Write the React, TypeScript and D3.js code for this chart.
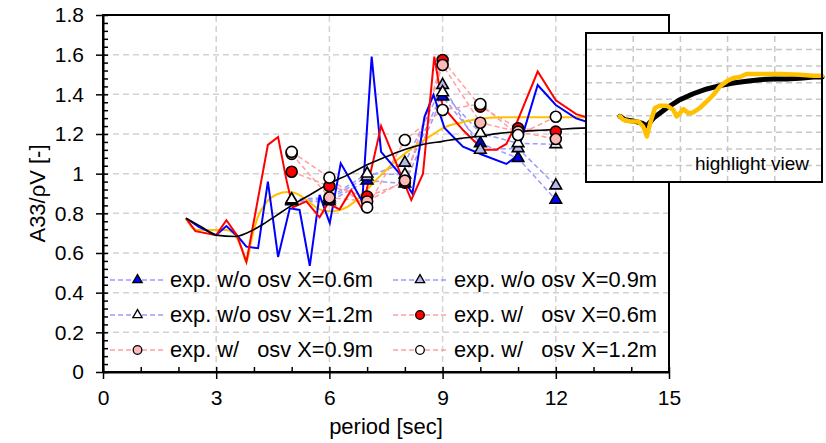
import React, { useEffect, useRef } from 'react';
import * as d3 from 'd3';

type Pt = [number, number];

// axis ticks
const xTicks = [0, 3, 6, 9, 12, 15];
const yTicks = [0, 0.2, 0.4, 0.6, 0.8, 1, 1.2, 1.4, 1.6, 1.8];
const yTickLabels = ['0', '0.2', '0.4', '0.6', '0.8', '1', '1.2', '1.4', '1.6', '1.8'];

// numerical curves (period [sec], A33/pV)
const blueLine: Pt[] = [
  [2.2, 0.775], [2.55, 0.73], [3.0, 0.69], [3.27, 0.736], [3.58, 0.682], [3.8, 0.632], [4.11, 0.624],
  [4.37, 0.96], [4.64, 0.58], [4.95, 0.825], [5.21, 0.817], [5.48, 0.535], [5.74, 0.893], [6.01, 0.75],
  [6.3, 1.052], [6.58, 0.96], [6.87, 0.86], [7.12, 1.59], [7.37, 1.11], [7.86, 1.0], [8.2, 0.9],
  [8.52, 1.287], [8.76, 1.397], [9.05, 1.23], [9.54, 1.136], [10.07, 1.094], [10.69, 1.049], [10.95, 1.086],
  [11.52, 1.447], [12.0, 1.346], [12.54, 1.279], [12.9, 1.257], [13.5, 1.245], [15, 1.24],
];
const redLine: Pt[] = [
  [2.2, 0.775], [2.45, 0.71], [3.0, 0.69], [3.27, 0.765], [3.55, 0.69], [3.8, 0.555], [4.37, 1.145],
  [4.64, 1.185], [4.86, 0.97], [5.03, 0.83], [5.39, 0.86], [5.74, 0.78], [5.96, 0.85], [6.27, 0.82],
  [6.58, 0.918], [6.87, 0.82], [7.37, 1.24], [8.17, 0.867], [8.48, 1.0], [8.78, 1.59], [9.0, 1.34],
  [9.54, 1.22], [10.07, 1.12], [10.42, 1.12], [10.69, 1.15], [10.95, 1.25], [11.52, 1.515], [12.0, 1.37],
  [12.54, 1.3], [12.9, 1.28], [13.5, 1.27], [15, 1.27],
];
const orangeLine: Pt[] = [
  [2.2, 0.775], [2.47, 0.716], [3.0, 0.716], [3.27, 0.716], [3.5, 0.69], [3.67, 0.624], [3.8, 0.556],
  [3.95, 0.68], [4.1, 0.78], [4.35, 0.86], [4.6, 0.895], [4.9, 0.907], [5.12, 0.9], [5.4, 0.867],
  [5.74, 0.82], [6.0, 0.81], [6.25, 0.815], [6.5, 0.835], [6.9, 0.9], [7.3, 0.98], [7.8, 1.07],
  [8.2, 1.13], [8.65, 1.187], [9.1, 1.237], [9.5, 1.258], [9.9, 1.274], [10.6, 1.284], [11.3, 1.285], [15, 1.285],
];
const blackLine: Pt[] = [
  [2.2, 0.775], [2.6, 0.733], [3.0, 0.69], [3.5, 0.683], [3.8, 0.7], [4.2, 0.74], [4.6, 0.79], [5.0, 0.84],
  [5.5, 0.895], [6.0, 0.95], [6.5, 0.995], [7.0, 1.045], [7.5, 1.085], [8.0, 1.122], [8.5, 1.148], [9.0, 1.163],
  [9.5, 1.178], [10.0, 1.19], [10.5, 1.203], [11.0, 1.212], [11.5, 1.218], [12.0, 1.223], [13.0, 1.232],
  [14.0, 1.235], [15, 1.238],
];

// experiments
const expPeriods = [5, 6, 7, 8, 9, 10, 11, 12];
const expWoX06 = [0.86, 0.86, 0.965, 0.95, 1.388, 1.153, 1.078, 0.868];
const expWoX09 = [0.865, 0.87, 0.985, 1.055, 1.447, 1.12, 1.128, 0.94];
const expWoX12 = [0.87, 0.88, 1.0, 0.995, 1.41, 1.204, 1.153, 1.148];
const expWX06 = [1.01, 0.937, 0.885, 0.955, 1.573, 1.338, 1.229, 1.212];
const expWX09 = [1.1, 0.88, 0.86, 0.965, 1.548, 1.257, 1.212, 1.175];
const expWX12 = [1.11, 0.98, 0.83, 1.17, 1.321, 1.351, 1.195, 1.287];

// highlight view curves
const insetBlack: Pt[] = [
  [0.72, 3.96], [0.83, 3.76], [1.04, 3.66], [1.18, 3.56], [1.29, 3.39], [1.43, 3.86], [1.71, 4.47],
  [1.99, 4.97], [2.27, 5.33], [2.56, 5.62], [2.84, 5.82], [3.12, 5.98], [3.4, 6.08], [3.69, 6.18],
  [3.97, 6.22], [4.25, 6.22], [4.53, 6.26], [4.82, 6.34], [5.0, 6.34],
];
const insetYellow: Pt[] = [
  [0.72, 3.96], [0.79, 3.76], [0.93, 3.66], [1.11, 3.66], [1.21, 3.35], [1.29, 2.75], [1.36, 3.56],
  [1.46, 4.47], [1.57, 4.61], [1.71, 4.61], [1.85, 4.36], [1.92, 3.96], [1.99, 4.16], [2.06, 4.4],
  [2.17, 4.16], [2.27, 4.2], [2.41, 4.47], [2.56, 4.87], [2.7, 5.27], [2.84, 5.78], [2.98, 6.08],
  [3.12, 6.28], [3.26, 6.34], [3.4, 6.52], [3.69, 6.52], [4.11, 6.52], [4.53, 6.48], [4.82, 6.42], [5.0, 6.42],
];

const FONT = '"Liberation Sans", Arial, sans-serif';

export default function App() {
  const svgRef = useRef<SVGSVGElement>(null);
  const W = 826, H = 443;

  useEffect(() => {
    const svg = d3.select(svgRef.current);
    svg.selectAll('*').remove();

    const x = d3.scaleLinear().domain([0, 15]).range([103, 669]);
    const y = d3.scaleLinear().domain([0, 1.8]).range([372, 15]);

    // grid
    const grid = svg.append('g').attr('stroke', '#d2d2d2').attr('stroke-width', 1.5).attr('stroke-dasharray', '6,4');
    yTicks.slice(1, -1).forEach(v => grid.append('line')
      .attr('x1', x(0)).attr('x2', x(15)).attr('y1', y(v)).attr('y2', y(v)));
    xTicks.slice(1, -1).forEach(t => grid.append('line')
      .attr('x1', x(t)).attr('x2', x(t)).attr('y1', y(0)).attr('y2', y(1.8)));

    // experiment series
    const woColor = '#9a9aff', wColor = '#ff9e9e';
    const series = [
      { label: 'exp. w/o osv X=0.6m', vals: expWoX06, shape: 'tri', fill: '#0000ff', line: woColor },
      { label: 'exp. w/o osv X=0.9m', vals: expWoX09, shape: 'tri', fill: '#b8b8ee', line: woColor },
      { label: 'exp. w/o osv X=1.2m', vals: expWoX12, shape: 'tri', fill: '#ffffff', line: woColor },
      { label: 'exp. w/   osv X=0.6m', vals: expWX06, shape: 'circ', fill: '#ff0000', line: wColor },
      { label: 'exp. w/   osv X=0.9m', vals: expWX09, shape: 'circ', fill: '#ffb8b8', line: wColor },
      { label: 'exp. w/   osv X=1.2m', vals: expWX12, shape: 'circ', fill: '#ffffff', line: wColor },
    ];

    const dashed = d3.line<number>().x((_, i) => x(expPeriods[i])).y(d => y(d));
    series.forEach(s => svg.append('path').attr('d', dashed(s.vals))
      .attr('fill', 'none').attr('stroke', s.line).attr('stroke-width', 1.5).attr('stroke-dasharray', '5,3'));

    // numerical lines
    const lin = d3.line<Pt>().x(d => x(d[0])).y(d => y(d[1]));
    const smooth = d3.line<Pt>().x(d => x(d[0])).y(d => y(d[1])).curve(d3.curveMonotoneX);
    svg.append('path').attr('d', smooth(orangeLine)).attr('fill', 'none').attr('stroke', '#ffc000').attr('stroke-width', 2);
    svg.append('path').attr('d', lin(blueLine)).attr('fill', 'none').attr('stroke', '#0000ff').attr('stroke-width', 2);
    svg.append('path').attr('d', lin(redLine)).attr('fill', 'none').attr('stroke', '#ff0000').attr('stroke-width', 2);
    svg.append('path').attr('d', smooth(blackLine)).attr('fill', 'none').attr('stroke', '#000').attr('stroke-width', 1.6);

    const tri = (size: number) => d3.symbol().type(d3.symbolTriangle).size(size)();
    const drawMarker = (g: any, shape: string, fill: string, cx: number, cy: number, big: boolean) => {
      if (shape === 'tri') {
        g.append('path').attr('d', tri(big ? 58 : 38)).attr('transform', `translate(${cx},${cy})`)
          .attr('fill', fill).attr('stroke', '#000').attr('stroke-width', big ? 1.6 : 1.3);
      } else {
        g.append('circle').attr('cx', cx).attr('cy', cy).attr('r', big ? 5.5 : 4.3)
          .attr('fill', fill).attr('stroke', '#000').attr('stroke-width', big ? 1.6 : 1.3);
      }
    };
    const marks = svg.append('g');
    series.forEach(s => s.vals.forEach((v, i) => drawMarker(marks, s.shape, s.fill, x(expPeriods[i]), y(v), true)));

    // axes
    const styleAxis = (g: any) => {
      g.select('.domain').attr('stroke', '#000').attr('stroke-width', 2);
      g.selectAll('.tick line').attr('stroke', '#000').attr('stroke-width', 1.5);
      g.selectAll('text').attr('fill', '#000').attr('font-size', 21).attr('font-family', FONT);
    };
    svg.append('g').attr('transform', `translate(${x(0)},0)`)
      .call(d3.axisLeft(y).tickValues(yTicks).tickSize(7).tickSizeOuter(0).tickPadding(12)
        .tickFormat((_, i) => yTickLabels[i]))
      .call(styleAxis);
    svg.append('g').attr('transform', `translate(${x(0)},0)`)
      .call(d3.axisRight(y).tickValues(d3.range(0, 1.801, 0.04)).tickSize(5).tickSizeOuter(0).tickFormat(() => ''))
      .call(styleAxis).call(g => g.select('.domain').remove());
    svg.append('g').attr('transform', `translate(0,${y(0)})`)
      .call(d3.axisBottom(x).tickValues(xTicks).tickSize(7).tickSizeOuter(0).tickPadding(11).tickFormat(d3.format('d')))
      .call(styleAxis);
    svg.append('g').attr('transform', `translate(0,${y(0)})`)
      .call(d3.axisTop(x).tickValues(d3.range(0, 15.01, 1)).tickSize(5).tickSizeOuter(0).tickFormat(() => ''))
      .call(styleAxis).call(g => g.select('.domain').remove());
    svg.append('rect').attr('x', x(0)).attr('y', y(1.8)).attr('width', x(15) - x(0)).attr('height', y(0) - y(1.8))
      .attr('fill', 'none').attr('stroke', '#000').attr('stroke-width', 2);

    // axis titles
    svg.append('text').attr('x', (x(0) + x(15)) / 2).attr('y', 434).attr('text-anchor', 'middle')
      .attr('font-size', 22).attr('font-family', FONT).text('period [sec]');
    svg.append('text').attr('transform', `translate(45,${(y(0) + y(1.8)) / 2}) rotate(-90)`).attr('text-anchor', 'middle')
      .attr('font-size', 22).attr('font-family', FONT).text('A33/ρV [-]');

    // legend
    const legend = svg.append('g');
    const cols = [{ lx: 110, mx: 137.5, tx: 170 }, { lx: 393, mx: 420, tx: 454 }];
    const rows = [280, 315, 350];
    series.forEach((s, i) => {
      const c = cols[i % 2], ry = rows[Math.floor(i / 2)];
      legend.append('line').attr('x1', c.lx).attr('x2', c.lx + 55).attr('y1', ry).attr('y2', ry)
        .attr('stroke', s.line).attr('stroke-width', 1.5).attr('stroke-dasharray', '5,3');
      drawMarker(legend, s.shape, s.fill, c.mx, ry, false);
      legend.append('text').attr('x', c.tx).attr('y', ry + 7).attr('font-size', 21.8).attr('font-family', FONT)
        .attr('xml:space', 'preserve').style('white-space', 'pre').text(s.label);
    });

    // highlight view inset
    const ix = d3.scaleLinear().domain([0, 5]).range([586, 822]);
    const iy = d3.scaleLinear().domain([0, 9]).range([182, 33]);
    const inset = svg.append('g');
    inset.append('rect').attr('x', ix(0)).attr('y', iy(9)).attr('width', ix(5) - ix(0)).attr('height', iy(0) - iy(9))
      .attr('fill', '#fff');
    const ig = inset.append('g').attr('stroke', '#c8c8c8').attr('stroke-width', 1.5).attr('stroke-dasharray', '6,4');
    d3.range(1, 9).forEach(v => ig.append('line').attr('x1', ix(0)).attr('x2', ix(5)).attr('y1', iy(v)).attr('y2', iy(v)));
    d3.range(1, 5).forEach(v => ig.append('line').attr('x1', ix(v)).attr('x2', ix(v)).attr('y1', iy(0)).attr('y2', iy(9)));
    const il = d3.line<Pt>().x(d => ix(d[0])).y(d => iy(d[1]));
    inset.append('path').attr('d', il(insetBlack)).attr('fill', 'none').attr('stroke', '#000')
      .attr('stroke-width', 5).attr('stroke-linejoin', 'round').attr('stroke-linecap', 'round');
    inset.append('path').attr('d', il(insetYellow)).attr('fill', 'none').attr('stroke', '#ffc000')
      .attr('stroke-width', 4.5).attr('stroke-linejoin', 'round').attr('stroke-linecap', 'round');
    inset.append('text').attr('x', 695).attr('y', 170).attr('font-size', 19).attr('font-family', FONT).text('highlight view');
    inset.append('rect').attr('x', ix(0)).attr('y', iy(9)).attr('width', ix(5) - ix(0)).attr('height', iy(0) - iy(9))
      .attr('fill', 'none').attr('stroke', '#000').attr('stroke-width', 2);
  }, []);

  return (
    <svg ref={svgRef} width={W} height={H} viewBox={`0 0 ${W} ${H}`}
      style={{ position: 'absolute', left: 0, top: 0, background: '#fff' }} />
  );
}
